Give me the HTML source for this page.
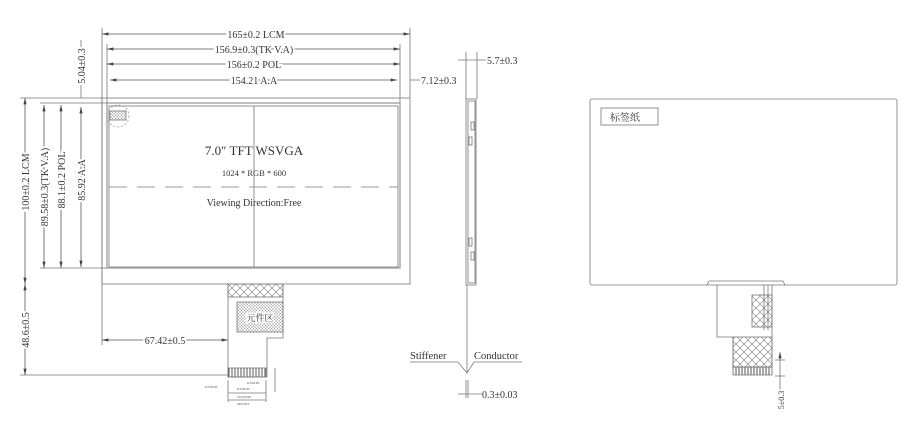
<!DOCTYPE html>
<html><head><meta charset="utf-8"><style>
html,body{margin:0;padding:0;background:#fff;width:920px;height:437px;overflow:hidden}
text{font-family:"Liberation Serif","Noto Serif CJK SC",serif;fill:#333}
</style></head><body>
<svg width="920" height="437" viewBox="0 0 920 437" xmlns="http://www.w3.org/2000/svg">
<defs>
<pattern id="h" width="8" height="8" patternUnits="userSpaceOnUse"><path d="M0 0L8 8M8 0L0 8" stroke="#777" stroke-width="0.6"/></pattern>
<pattern id="h2" width="3" height="3" patternUnits="userSpaceOnUse"><path d="M0 0L3 3M3 0L0 3" stroke="#888" stroke-width="0.4"/></pattern>
<pattern id="v" width="3" height="3" patternUnits="userSpaceOnUse"><path d="M1 0V3" stroke="#555" stroke-width="1"/></pattern>
<marker id="a" viewBox="0 0 8 4" refX="8" refY="2" markerWidth="8" markerHeight="4" orient="auto-start-reverse"><path d="M0 0L8 2L0 4z" fill="#444"/></marker>
</defs>
<g stroke="#777" stroke-width="0.8" fill="none">
<!-- main front view -->
<rect x="102" y="98" width="308" height="186"/>
<rect x="107" y="103" width="293" height="165" stroke="#aaa" stroke-width="1.5"/>
<rect x="109" y="106" width="289" height="161"/>
<line x1="254" y1="106" x2="254" y2="267"/>
<line x1="109" y1="187" x2="398" y2="187" stroke-dasharray="18,10"/>
<circle cx="118" cy="116" r="11" stroke-dasharray="2,2" stroke="#999"/>
<rect x="110" y="111" width="16" height="9" fill="url(#h2)"/>
<!-- extension lines -->
<line x1="102" y1="28" x2="102" y2="345"/>
<line x1="410" y1="28" x2="410" y2="98"/>
<line x1="107" y1="44" x2="107" y2="103"/>
<line x1="400" y1="44" x2="400" y2="103"/>
<line x1="20" y1="98" x2="102" y2="98"/>
<line x1="40" y1="103" x2="107" y2="103"/>
<line x1="40" y1="268" x2="107" y2="268"/>
<line x1="20" y1="375" x2="228" y2="375"/>
<!-- top dims -->
<g marker-start="url(#a)" marker-end="url(#a)" stroke="#555">
<line x1="102" y1="34" x2="410" y2="34"/>
<line x1="107" y1="49" x2="400" y2="49"/>
<line x1="107" y1="64" x2="400" y2="64"/>
<line x1="110" y1="80" x2="397" y2="80"/>
<line x1="25" y1="98" x2="25" y2="284"/>
<line x1="25" y1="284" x2="25" y2="375"/>
<line x1="44" y1="105" x2="44" y2="268"/>
<line x1="61" y1="105" x2="61" y2="268"/>
<line x1="81" y1="107" x2="81" y2="267"/>
<line x1="102" y1="340" x2="228" y2="340"/>
</g>
<line x1="81" y1="40" x2="81" y2="98"/>
<line x1="410" y1="80" x2="420" y2="80"/>
<!-- FPC -->
<path d="M228 284V377H267V338H283V284"/>
<rect x="228" y="284" width="55" height="13" fill="url(#h)"/>
<rect x="237" y="302" width="46" height="30" fill="url(#h2)"/>
<rect x="228" y="368" width="38" height="9" fill="url(#v)"/>
<line x1="228" y1="380" x2="228" y2="402"/><line x1="266" y1="380" x2="266" y2="402"/>
<line x1="228" y1="393" x2="266" y2="393"/><line x1="228" y1="400" x2="266" y2="400"/>
<line x1="275" y1="368" x2="275" y2="392"/>
<!-- side view -->
<rect x="466" y="99" width="10" height="186"/>
<rect x="468" y="101" width="7" height="182"/>
<rect x="471" y="122" width="3" height="8"/><rect x="469" y="137" width="3" height="8"/>
<rect x="469" y="238" width="3" height="8"/><rect x="471" y="252" width="3" height="8"/>
<line x1="467" y1="285" x2="467" y2="373"/>
<line x1="466" y1="52" x2="466" y2="99"/><line x1="477" y1="52" x2="477" y2="99"/>
<line x1="458" y1="60" x2="486" y2="60"/>
<path d="M410 362H458L467 373L474 362H522"/>
<line x1="458" y1="394" x2="482" y2="394"/>
<line x1="466" y1="380" x2="466" y2="398"/><line x1="468" y1="380" x2="468" y2="398"/>
<!-- back view -->
<rect x="590" y="99" width="307" height="186" rx="2"/>
<rect x="601" y="108" width="57" height="17"/>
<path d="M707 285L709 281H783L785 285"/>
<path d="M717 285V337H733V367H772V285"/>
<rect x="752" y="295" width="20" height="32" fill="url(#h)"/>
<rect x="733" y="337" width="39" height="30" fill="url(#h)"/>
<rect x="733" y="367" width="39" height="8" fill="url(#v)"/>
<line x1="764" y1="285" x2="764" y2="330"/><line x1="768" y1="285" x2="768" y2="330"/>
<line x1="775" y1="360" x2="785" y2="360"/><line x1="775" y1="376" x2="785" y2="376"/>
<line x1="780" y1="352" x2="780" y2="395" marker-start="url(#a)"/>
</g>
<g font-size="10">
<text x="256" y="38" text-anchor="middle" style="paint-order:stroke;stroke:#fff;stroke-width:4">165±0.2 LCM</text>
<text x="254" y="53" text-anchor="middle" style="paint-order:stroke;stroke:#fff;stroke-width:4">156.9±0.3(TK V.A)</text>
<text x="254" y="68" text-anchor="middle" style="paint-order:stroke;stroke:#fff;stroke-width:4">156±0.2 POL</text>
<text x="254" y="84" text-anchor="middle" style="paint-order:stroke;stroke:#fff;stroke-width:4">154.21 A.A</text>
<text x="421" y="84">7.12±0.3</text>
<text x="487" y="64">5.7±0.3</text>
<text x="482" y="398">0.3±0.03</text>
<text x="410" y="359" font-size="10.5">Stiffener</text>
<text x="474" y="359" font-size="10.5">Conductor</text>
<text x="165" y="344" text-anchor="middle" style="paint-order:stroke;stroke:#fff;stroke-width:4">67.42±0.5</text>
<g style="paint-order:stroke;stroke:#fff;stroke-width:4">
<text transform="translate(29,182) rotate(-90)" text-anchor="middle">100±0.2 LCM</text>
<text transform="translate(29,330) rotate(-90)" text-anchor="middle">48.6±0.5</text>
<text transform="translate(48,187) rotate(-90)" text-anchor="middle">89.58±0.3(TK V.A)</text>
<text transform="translate(65,180) rotate(-90)" text-anchor="middle">88.1±0.2 POL</text>
<text transform="translate(85,180) rotate(-90)" text-anchor="middle">85.92 A.A</text>
<text transform="translate(85,66) rotate(-90)" text-anchor="middle">5.04±0.3</text>
<text transform="translate(784,400) rotate(-90)" text-anchor="middle" font-size="8">5±0.3</text>
</g>
<text x="254" y="155" text-anchor="middle" font-size="13">7.0″ TFT WSVGA</text>
<text x="254" y="176" text-anchor="middle" font-size="8.5">1024 * RGB * 600</text>
<text x="254" y="206" text-anchor="middle" font-size="10">Viewing Direction:Free</text>
<text x="260" y="321" text-anchor="middle" font-size="9" style="paint-order:stroke;stroke:#fff;stroke-width:3">元件区</text>
<text x="610" y="121" font-size="10">标签纸</text>
<text x="247" y="384" font-size="3.5">0.3±0.05</text>
<text x="237" y="390" font-size="3.5">0.5±0.05</text>
<text x="205" y="388" font-size="3.5">0.5±0.05</text>
<text x="237" y="398" font-size="3.5">19.5±0.05</text>
<text x="237" y="405" font-size="3.5">20.5±0.2</text>
</g>
</svg>
</body></html>
